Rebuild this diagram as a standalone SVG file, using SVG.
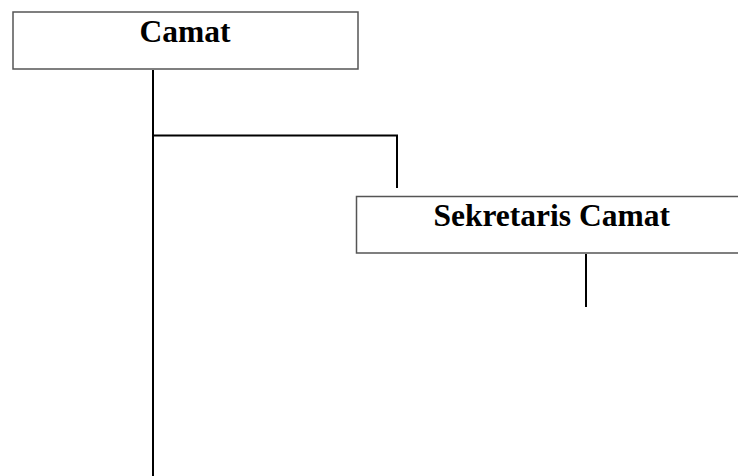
<svg xmlns="http://www.w3.org/2000/svg" width="738" height="476" viewBox="0 0 738 476">
<style>
.box{fill:#fff;stroke:#555;stroke-width:1.5}
.lbl{font-family:"Liberation Serif","Times New Roman",serif;font-weight:bold;font-size:31.5px;fill:#000;text-anchor:middle}
.ln{stroke:#000;stroke-width:2;fill:none}
</style>
<rect width="738" height="476" fill="#fff"/>
<g id="connectors">
<path class="ln" d="M153 70 V476"/>
<path class="ln" d="M153 135.5 H397 V188"/>
<path class="ln" d="M586 254 V307"/>
</g>
<g id="camat">
<rect class="box" x="13" y="12" width="345" height="57"/>
<text class="lbl" x="185" y="41.5">Camat</text>
</g>
<g id="sekretaris">
<rect class="box" x="356.5" y="196.5" width="390" height="56.5"/>
<text class="lbl" x="551.7" y="226">Sekretaris Camat</text>
</g>
</svg>
